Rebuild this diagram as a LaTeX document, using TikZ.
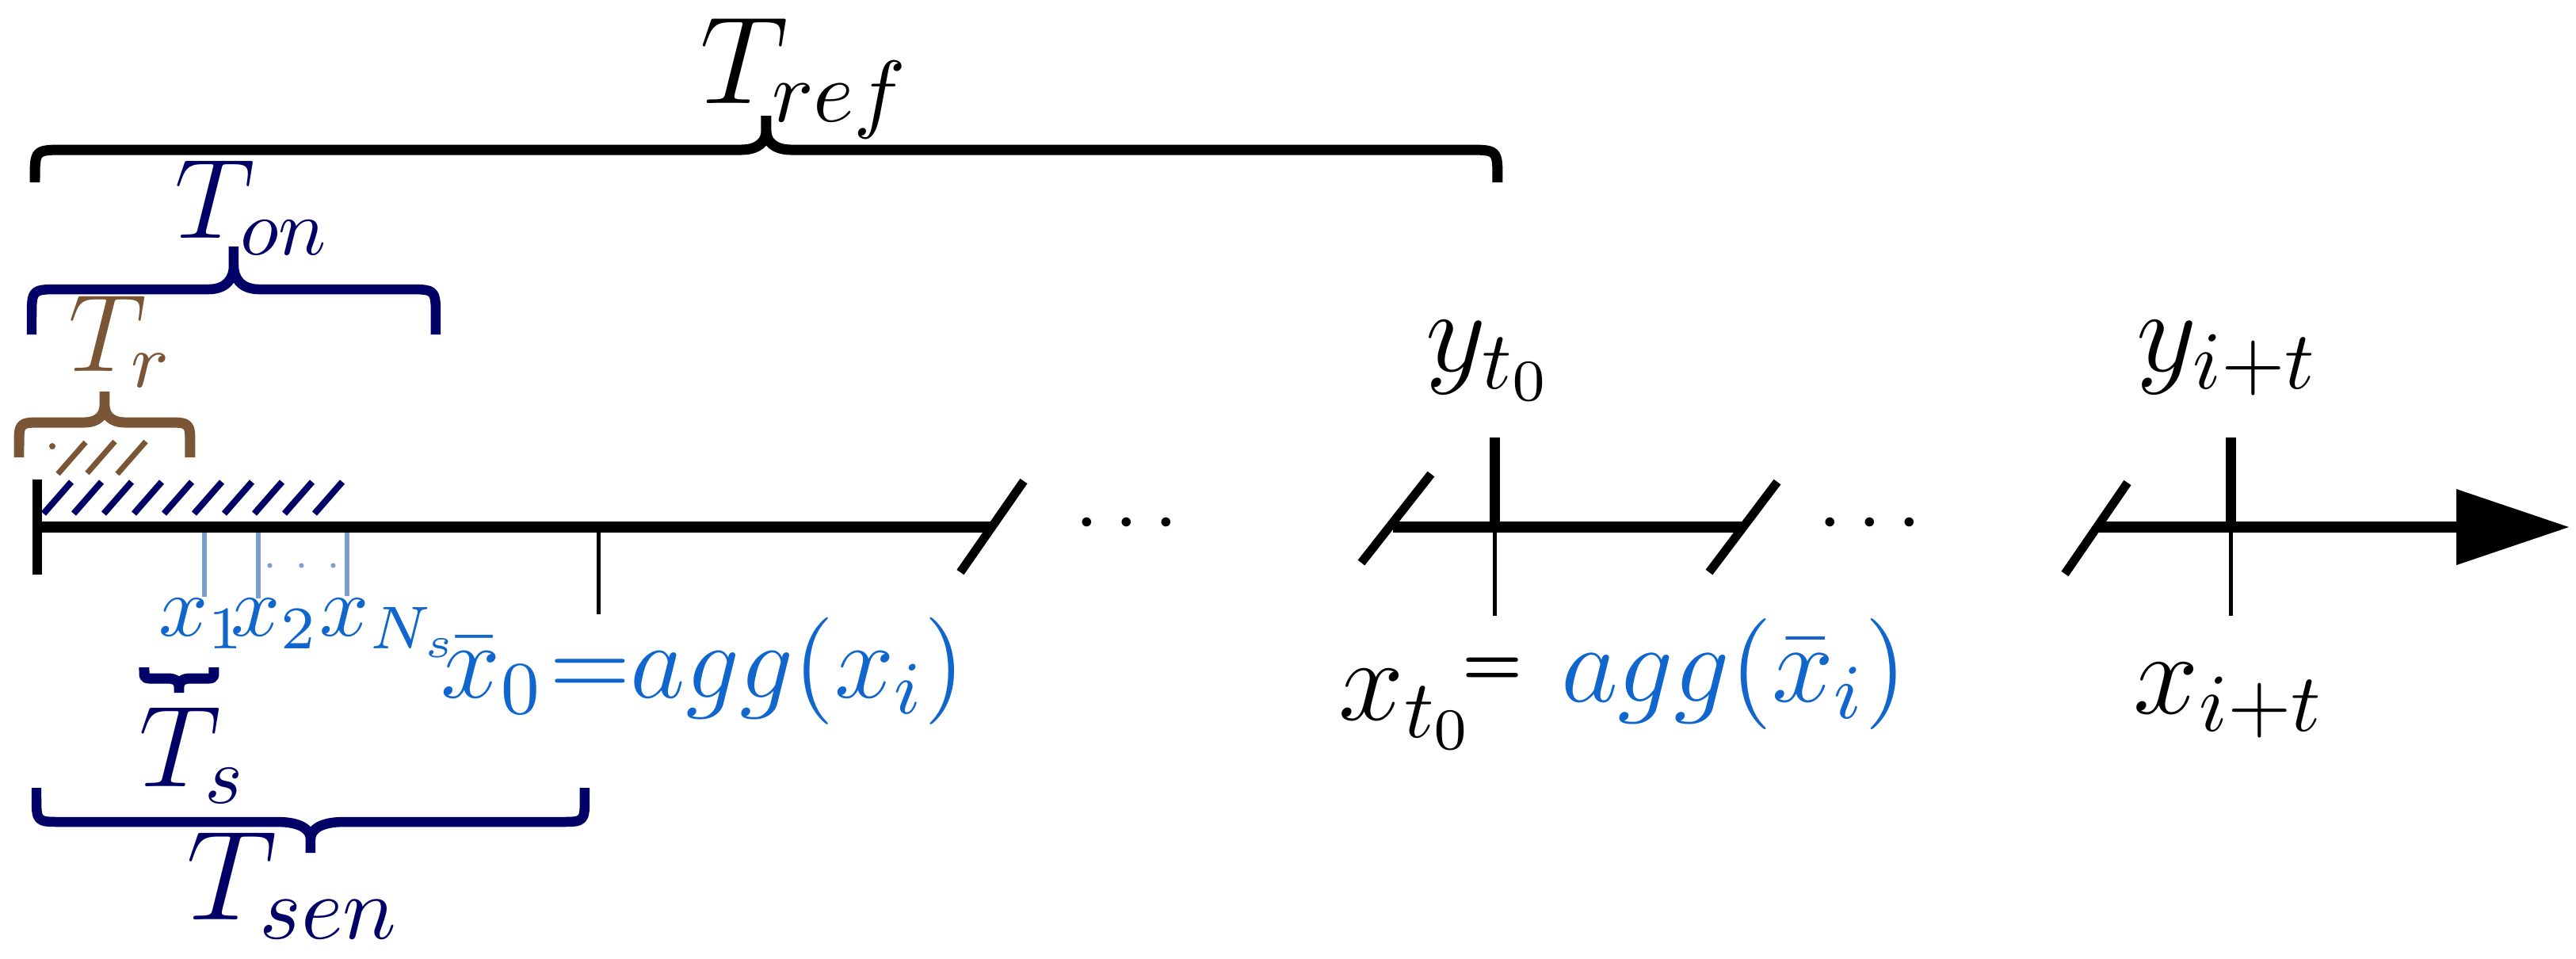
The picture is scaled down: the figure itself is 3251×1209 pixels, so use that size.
\RequirePackage{fix-cm}
\documentclass[tikz,border=0pt]{standalone}
\usetikzlibrary{arrows.meta}
\definecolor{navyc}{RGB}{0,0,102}
\definecolor{brownc}{RGB}{122,86,54}
\definecolor{bluet}{RGB}{16,102,204}
\definecolor{bluetick}{RGB}{122,158,208}
\newcommand{\fsz}[1]{\fontsize{#1pt}{#1pt}\selectfont}
% #1 style, #2 x1, #3 x2, #4 y of ends, #5 y of line, #6 y of tip, #7 corner radius, #8 tip half-width
\newcommand{\tbrace}[8]{%
  \draw[#1] (#2,#4) -- (#2,{#5+#7*sign(#4-#5)}) .. controls (#2,#5) .. ({#2+#7},#5)
    -- ({(#2+#3)/2-#8},#5) .. controls ({(#2+#3)/2-0.3*#8},#5) and ({(#2+#3)/2},{#5+0.25*(#6-#5)}) .. ({(#2+#3)/2},{#5+0.55*(#6-#5)}) -- ({(#2+#3)/2},#6)
    -- ({(#2+#3)/2},{#5+0.55*(#6-#5)}) .. controls ({(#2+#3)/2},{#5+0.25*(#6-#5)}) and ({(#2+#3)/2+0.3*#8},#5) .. ({(#2+#3)/2+#8},#5)
    -- ({#3-#7},#5) .. controls (#3,#5) .. (#3,{#5+#7*sign(#4-#5)}) -- (#3,#4);
}
\tikzset{
  lbl/.style={inner sep=0pt, outer sep=0pt, anchor=base west},
  axisline/.style={line width=1.4pt, black},
  slashline/.style={line width=1.1pt, black},
  thicktick/.style={line width=1.3pt, black},
  thintick/.style={line width=0.5pt, black},
  bluetk/.style={line width=0.6pt, bluetick},
  bracestyle/.style={line width=#1, line join=bevel},
  hatchnavy/.style={line width=0.8pt, navyc},
  hatchbrown/.style={line width=0.7pt, brownc},
}
\begin{document}
\begin{tikzpicture}[x=0.1pt,y=-0.1pt]
\useasboundingbox (0,0) rectangle (3251,1209);

% axis
\coordinate (a0) at (41,665);
\coordinate (a1) at (1252,665);
\coordinate (b0) at (1758,665);
\coordinate (b1) at (2200,665);
\coordinate (c0) at (2647,665);
\coordinate (c1) at (3243,665);
\draw[axisline] (a0) -- (a1);
\draw[axisline] (b0) -- (b1);
\draw[axisline, -{Triangle[length=14.3pt,width=9.2pt]}] (c0) -- (c1);

% break slashes
\draw[slashline] (1212,722) -- (1292,607);
\draw[slashline] (1718,710) -- (1806,598);
\draw[slashline] (2157,722) -- (2243,608);
\draw[slashline] (2606,724) -- (2685,609);

% dots
\node[inner sep=0pt, anchor=base] (dots1) at (1422,686) {\fsz{11}$ {\cdot}\mkern3.2mu{\cdot}\mkern3.2mu{\cdot} $};
\node[inner sep=0pt, anchor=base] (dots2) at (2360,686) {\fsz{11}$ {\cdot}\mkern3.2mu{\cdot}\mkern3.2mu{\cdot} $};

% ticks
\draw[thicktick] (47,605) -- (47,725);
\draw[thintick] (756,665) -- (756,775);
\draw[thicktick] (1887,552) -- (1887,665);
\draw[thintick] (1887,665) -- (1887,777);
\draw[thicktick] (2816,552) -- (2816,665);
\draw[thintick] (2816,665) -- (2816,777);

% blue sample ticks
\draw[bluetk] (258,672) -- (258,753);
\draw[bluetk] (326,672) -- (326,755);
\draw[bluetk] (438,672) -- (438,752);
\node[inner sep=0pt, anchor=base, text=bluetick] (bdots) at (381,726) {\fsz{5}$ {\cdot}\mkern4.3mu{\cdot}\mkern4.3mu{\cdot} $};

% navy hatch
\foreach \k in {0,...,9}{
  \draw[hatchnavy] ({55+38*\k},648) -- ({90+38*\k},608);
}
% brown hatch
\draw[hatchbrown] (73,598) -- (108,558);
\draw[hatchbrown] (110,597) -- (145,557);
\draw[hatchbrown] (148,598) -- (184,557);
\fill[brownc] (66,563) circle (4);

% braces
\tbrace{bracestyle=1.3pt, black}{44}{1890}{230}{189}{146}{38}{32}
\tbrace{bracestyle=1.25pt, navyc}{40}{550}{422}{365}{311}{36}{32}
\tbrace{bracestyle=1.3pt, brownc}{24}{240}{577}{533}{494}{30}{26}
\tbrace{bracestyle=1.3pt, navyc}{182}{270}{842}{856}{874}{10}{14}
\tbrace{bracestyle=1.25pt, navyc}{46}{738}{994}{1037}{1076}{32}{42}

% brace labels
\node[lbl] (Tref) at (884,130) {\fsz{15.7}$T_{ref}$};
\node[lbl, text=navyc] (Ton) at (221,300) {\fsz{14.3}$T_{on}$};
\node[lbl, text=brownc] (Tr) at (86,468) {\fsz{13.9}$T_{r}$};
\node[lbl, text=navyc] (Ts) at (175,992) {\fsz{14.6}$T_{s}$};
\node[lbl, text=navyc] (Tsen) at (235,1160) {\fsz{16.1}$T_{sen}$};

% sample labels
\node[lbl, text=bluet] (x1) at (200,802) {\fsz{10.9}$x_1$};
\node[lbl, text=bluet] (x2) at (292,802) {\fsz{10.9}$x_2$};
\node[lbl, text=bluet] (xNs) at (404,802) {\fsz{10.9}$x_{N_s}$};
\node[lbl, text=bluet] (xbar0) at (557,880) {\fsz{13.5}$\bar{x}_0\mkern1mu{=}agg(x_i)$};

% output / input labels
\node[lbl] (yt0) at (1800,468) {\fsz{14.8}$y_{t_0}$};
\node[lbl] (yit) at (2697,468) {\fsz{14.8}$y_{i+t}$};
\node[lbl] (xt0) at (1690,908) {\fsz{14.8}$x_{t_0}$};
\node[inner sep=0pt, anchor=base] (eq) at (1884,862) {\fsz{8}\textbf{=}};
\node[lbl, text=bluet] (aggx) at (1970,885) {\fsz{14}$agg(\bar{x}_i)$};
\node[lbl] (xit) at (2693,900) {\fsz{14.8}$x_{i+t}$};
\end{tikzpicture}
\end{document}
